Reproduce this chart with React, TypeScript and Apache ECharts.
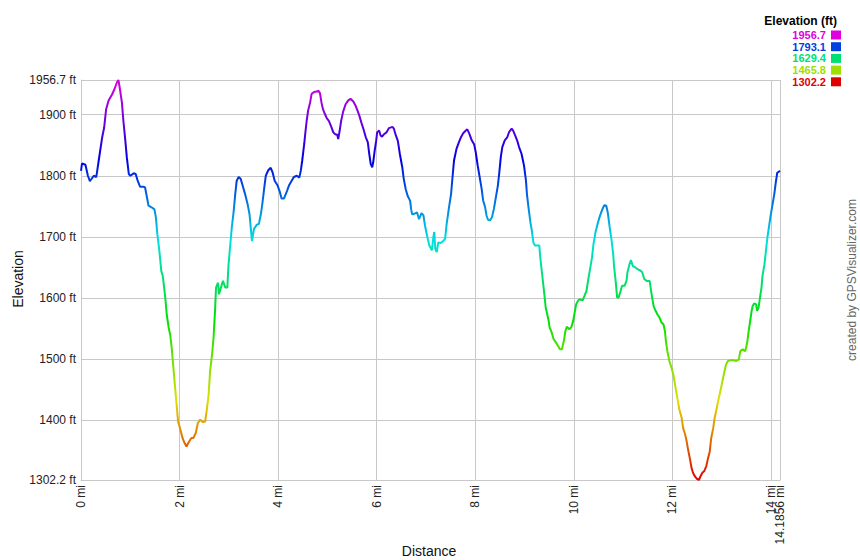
import React, { useEffect, useRef } from "react";
import * as echarts from "echarts";

const distanceMi = [
  0.0, 0.02, 0.09, 0.14, 0.18, 0.26, 0.31, 0.34, 0.38, 0.43, 0.47, 0.51, 0.56, 0.63, 0.68, 0.73, 0.76, 0.79, 0.83, 0.86,
  0.9, 0.93, 0.97, 1.0, 1.07, 1.11, 1.15, 1.2, 1.27, 1.3, 1.34, 1.37, 1.44, 1.49, 1.52, 1.55, 1.59, 1.63, 1.66, 1.68,
  1.71, 1.74, 1.78, 1.81, 1.84, 1.87, 1.91, 1.94, 1.97, 2.01, 2.06, 2.1, 2.14, 2.18, 2.24, 2.28, 2.33, 2.37, 2.42, 2.47,
  2.52, 2.55, 2.59, 2.62, 2.66, 2.69, 2.72, 2.74, 2.78, 2.8, 2.84, 2.88, 2.93, 2.97, 2.99, 3.03, 3.06, 3.1, 3.13, 3.16,
  3.2, 3.24, 3.28, 3.33, 3.38, 3.42,
  3.47, 3.51, 3.57, 3.61, 3.65, 3.68, 3.72, 3.75, 3.8, 3.85, 3.89, 3.93, 3.99, 4.03, 4.07, 4.12, 4.18, 4.22, 4.27, 4.32,
  4.38, 4.43, 4.46, 4.49, 4.53, 4.55, 4.58, 4.61, 4.65, 4.68, 4.73, 4.78, 4.82, 4.85, 4.88, 4.91, 4.95, 4.99, 5.03, 5.08,
  5.12, 5.16, 5.2, 5.22, 5.25, 5.28, 5.32, 5.37, 5.42, 5.47, 5.53, 5.57, 5.61, 5.65, 5.69, 5.73, 5.78, 5.82, 5.85, 5.88,
  5.91, 5.93, 5.96, 5.99, 6.01, 6.05, 6.08, 6.11, 6.15, 6.2, 6.25, 6.32, 6.35, 6.39, 6.43, 6.47, 6.52, 6.55, 6.59, 6.63,
  6.68, 6.7, 6.72, 6.77, 6.82, 6.86,
  6.91, 6.95, 6.98, 7.03, 7.07, 7.12, 7.15, 7.17, 7.19, 7.22, 7.25, 7.3, 7.35, 7.39, 7.42, 7.47, 7.51, 7.54, 7.57, 7.62,
  7.67, 7.71, 7.76, 7.81, 7.84, 7.88, 7.93, 7.98, 8.01, 8.05, 8.09, 8.13, 8.16, 8.2, 8.23, 8.26, 8.3, 8.34, 8.38, 8.42,
  8.46, 8.49, 8.52, 8.55, 8.6, 8.65, 8.69, 8.74, 8.77, 8.81, 8.85, 8.89, 8.94, 8.99, 9.03, 9.05, 9.08, 9.12, 9.15, 9.18,
  9.21, 9.26, 9.3, 9.32, 9.35, 9.38, 9.41, 9.43, 9.46, 9.49, 9.51, 9.55, 9.59, 9.64, 9.68, 9.72, 9.76, 9.8, 9.83, 9.86,
  9.91, 9.95, 9.99, 10.02, 10.05, 10.09, 10.12, 10.18, 10.22, 10.26, 10.29,
  10.37, 10.4, 10.44, 10.49, 10.53, 10.58, 10.62, 10.66, 10.69, 10.73, 10.77, 10.8, 10.82, 10.85, 10.88, 10.91, 10.95,
  10.98, 11.03, 11.07, 11.09, 11.13, 11.16, 11.2, 11.25, 11.3, 11.35, 11.39, 11.43, 11.48, 11.54, 11.56, 11.59, 11.62,
  11.66, 11.7, 11.74, 11.78, 11.82, 11.85, 11.87, 11.9, 11.94, 11.98, 12.02, 12.05, 12.09, 12.12, 12.15, 12.19, 12.22,
  12.26, 12.29, 12.32, 12.36, 12.39, 12.42, 12.46, 12.5, 12.54, 12.57, 12.61, 12.65, 12.69, 12.72, 12.76, 12.79, 12.83,
  12.86, 12.89, 12.93, 12.96, 12.99, 13.03, 13.06, 13.09, 13.13, 13.17, 13.23, 13.3, 13.35, 13.38, 13.43, 13.48, 13.52,
  13.55, 13.58, 13.61, 13.63, 13.66, 13.7, 13.72, 13.75, 13.78, 13.81, 13.83, 13.87, 13.9, 13.93, 13.97, 14.0, 14.03,
  14.07, 14.1, 14.13, 14.1856,
];

const elevationFt = [
  1808, 1820, 1818, 1800, 1791, 1800, 1798, 1814, 1836, 1863, 1879, 1909, 1923, 1933, 1942, 1953, 1956.7, 1942, 1920, 1890,
  1857, 1830, 1803, 1800, 1804, 1803, 1792, 1782, 1782, 1781, 1764, 1751, 1748, 1745, 1732, 1704, 1677, 1644, 1636, 1622,
  1601, 1573, 1551, 1540, 1519, 1491, 1453, 1426, 1398, 1387, 1371, 1363, 1357, 1363, 1371, 1371, 1379, 1395, 1401, 1397,
  1398, 1415, 1442, 1480, 1508, 1535, 1579, 1617, 1625, 1606, 1617, 1628, 1617, 1617, 1650, 1688, 1715, 1743, 1770, 1792,
  1798, 1795, 1784, 1770, 1754, 1737,
  1693, 1713, 1720, 1721, 1737, 1754, 1781, 1800, 1809, 1813, 1805, 1792, 1784, 1775, 1763, 1763, 1775, 1784, 1791, 1798,
  1800, 1797, 1808, 1825, 1852, 1868, 1890, 1907, 1920, 1934, 1937, 1938, 1939, 1935, 1920, 1909, 1901, 1894, 1890, 1880,
  1871, 1868, 1867, 1860, 1874, 1890, 1905, 1917, 1923, 1926, 1921, 1915, 1907, 1898, 1887, 1877, 1863, 1855, 1836, 1819,
  1814, 1822, 1841, 1857, 1871, 1874, 1866, 1864, 1868, 1871, 1878, 1880, 1877, 1866, 1857, 1836, 1814, 1795, 1778, 1767,
  1759, 1745, 1737, 1738, 1740, 1729,
  1739, 1735, 1719, 1699, 1686, 1678, 1699, 1708, 1680, 1675, 1691, 1690, 1693, 1697, 1721, 1749, 1770, 1798, 1825, 1844,
  1855, 1863, 1870, 1874, 1876, 1869, 1858, 1851, 1839, 1817, 1798, 1779, 1760, 1749, 1735, 1728, 1727, 1732, 1746, 1765,
  1784, 1806, 1831, 1847, 1858, 1863, 1872, 1877, 1874, 1866, 1858, 1847, 1836, 1817, 1792, 1770, 1749, 1724, 1710, 1691,
  1686, 1686, 1686, 1667, 1645, 1623, 1601, 1585, 1574, 1563, 1552, 1544, 1533, 1527, 1522, 1516, 1516, 1530, 1546, 1553,
  1549, 1552, 1563, 1577, 1590, 1596, 1598, 1596, 1604, 1612, 1628,
  1666, 1688, 1707, 1723, 1734, 1745, 1752, 1751, 1740, 1715, 1693, 1672, 1650, 1628, 1601, 1601, 1611,
  1620, 1620, 1628, 1642, 1655, 1662, 1652, 1650, 1647, 1645, 1642, 1631, 1628, 1628, 1617, 1601, 1587,
  1579, 1573, 1568, 1560, 1557, 1546, 1530, 1513, 1497, 1487, 1475, 1461, 1442, 1428, 1415, 1404, 1387,
  1377, 1366, 1352, 1336, 1322, 1314, 1308, 1304, 1302.2, 1308, 1314, 1317, 1325, 1336, 1349, 1371, 1387,
  1404, 1415, 1431, 1442, 1453, 1469, 1480, 1491, 1497, 1498, 1498, 1497, 1499, 1513, 1516, 1513, 1527,
  1546, 1562, 1579, 1587, 1591, 1590, 1579, 1584, 1601, 1617, 1636, 1655, 1677, 1699, 1721, 1737, 1751,
  1770, 1789, 1805, 1808,
];

const yTickValues = [1302.2, 1400, 1500, 1600, 1700, 1800, 1900, 1956.7];
const xTickValues = [0, 2, 4, 6, 8, 10, 12, 14];
const xEndValue = 14.1856;
const legendValues = [1956.7, 1793.1, 1629.4, 1465.8, 1302.2];
const legendColors = ["#e000e0", "#0040e0", "#00e070", "#a0e000", "#e00000"];
const hueStops = [
  "#e00000", "#e07000", "#e0e000", "#70e000", "#00e000", "#00e070",
  "#00e0e0", "#0070e0", "#0000e0", "#7000e0", "#e000e0",
];

const FONT = "'Liberation Sans', Arial, Helvetica, sans-serif";
const GRID_COLOR = "#c8c8c8";

export default function App() {
  const ref = useRef<HTMLDivElement>(null);

  useEffect(() => {
    if (!ref.current) return;
    const chart = echarts.init(ref.current, null, { renderer: "svg" });
    const data = distanceMi.map((d, i) => [d, elevationFt[i]]);
    const yMin = yTickValues[0];
    const yMax = yTickValues[yTickValues.length - 1];

    const txt = (text: string, x: number, y: number, font: string, fill: string, align: string, rotation = 0) => ({
      type: "text",
      x,
      y,
      rotation,
      style: {
        text,
        font,
        fill,
        align,
        verticalAlign: "middle",
        textAlign: align,
        textVerticalAlign: "middle",
      },
    });

    const graphics: any[] = [
      txt("Elevation (ft)", 837, 21, `bold 12px ${FONT}`, "#000", "right"),
      txt("Distance", 429, 551, `14px ${FONT}`, "#111", "center"),
      txt("Elevation", 17.5, 279, `14px ${FONT}`, "#111", "center", Math.PI / 2),
      txt("created by GPSVisualizer.com", 852, 280, `12px ${FONT}`, "#666", "center", Math.PI / 2),
    ];
    legendValues.forEach((v, i) => {
      const cy = 35 + i * 11.7;
      graphics.push(txt(String(v), 826, cy, `bold 11px ${FONT}`, legendColors[i], "right"));
      graphics.push({
        type: "rect",
        shape: { x: 831, y: cy - 4.5, width: 10, height: 9 },
        style: { fill: legendColors[i] },
      });
    });

    const baseLabel = {
      rotate: 90,
      margin: 5,
      fontSize: 12,
      color: "#222",
      hideOverlap: false,
      formatter: (v: number) => `${v} mi`,
    };

    chart.setOption({
      animation: false,
      backgroundColor: "#fff",
      textStyle: { fontFamily: FONT },
      grid: { left: 81, right: 80, top: 80, bottom: 80, containLabel: false, outerBoundsMode: "none" },
      visualMap: {
        show: false,
        type: "continuous",
        dimension: 1,
        min: yMin,
        max: yMax,
        seriesIndex: 0,
        inRange: { color: hueStops },
      },
      xAxis: [
        {
          type: "value",
          min: 0,
          max: xEndValue,
          position: "bottom",
          axisLine: { show: true, lineStyle: { color: GRID_COLOR, width: 1 } },
          axisTick: { show: false, customValues: xTickValues },
          axisLabel: { ...baseLabel, customValues: xTickValues },
          splitLine: { show: true, lineStyle: { color: GRID_COLOR, width: 1 } },
        },
        {
          type: "value",
          min: 0,
          max: xEndValue,
          position: "bottom",
          axisLine: { show: false },
          axisTick: { show: false, customValues: [xEndValue] },
          axisLabel: { ...baseLabel, customValues: [xEndValue], showMaxLabel: true },
          splitLine: { show: true, lineStyle: { color: GRID_COLOR, width: 1 } },
        },
      ],
      yAxis: {
        type: "value",
        min: yMin,
        max: yMax,
        axisLine: { show: true, lineStyle: { color: GRID_COLOR, width: 1 } },
        axisTick: { show: false, customValues: yTickValues },
        axisLabel: {
          customValues: yTickValues,
          margin: 5,
          fontSize: 12,
          color: "#222",
          hideOverlap: false,
          formatter: (v: number) => `${v} ft`,
        },
        splitLine: { show: true, lineStyle: { color: GRID_COLOR, width: 1 } },
      },
      series: [
        {
          type: "line",
          xAxisIndex: 0,
          data,
          showSymbol: false,
          symbol: "none",
          lineStyle: { width: 2 },
        },
      ],
      graphic: graphics,
    });

    return () => chart.dispose();
  }, []);

  return (
    <div
      ref={ref}
      style={{ position: "absolute", left: 0, top: 0, width: 860, height: 560, background: "#fff" }}
    />
  );
}
